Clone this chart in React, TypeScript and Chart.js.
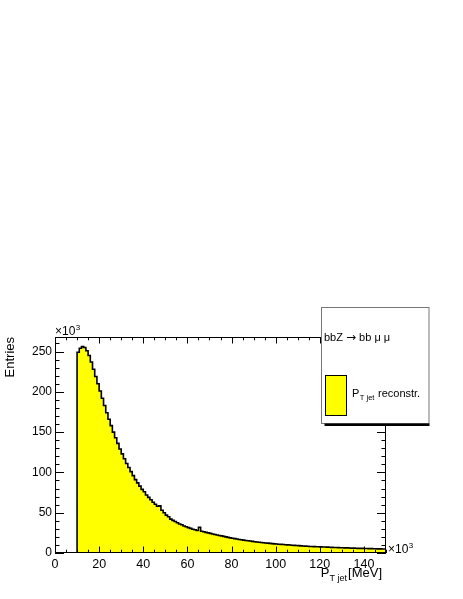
import React, { useEffect, useRef } from "react";
import { Chart, registerables } from "chart.js";

Chart.register(...registerables);

// ---- data (values in units of 10^3 entries, bins of 1 x10^3 MeV from 0 to 150) ----
const X_MIN = 0;
const X_MAX = 150;
const Y_MAX = 268;
const BIN_WIDTH = 1;

const counts: number[] = [
  0, 0, 0, 0, 0, 0, 0, 0, 0, 0,
  249, 254, 256, 255, 251, 245, 237, 228, 219, 210,
  201, 192, 183, 174, 166, 158, 150, 143, 136, 129,
  123, 117, 111, 106, 101, 96, 91, 87, 83, 79,
  76, 72, 69, 66, 63, 60.5, 58, 58.5, 53, 50,
  47, 45, 42, 40.5, 39, 37.5, 36, 35, 33.5, 32.5,
  31.5, 30.5, 29.5, 28.8, 28, 32, 27, 26.3, 25.6, 25,
  24.3, 23.6, 23, 22.4, 21.8, 21.2, 20.6, 20, 19.4, 18.8,
  18.3, 17.8, 17.3, 16.8, 16.4, 16, 15.6, 15.2, 14.8, 14.4,
  14, 13.7, 13.4, 13.1, 12.8, 12.5, 12.2, 11.9, 11.6, 11.3,
  11.1, 10.9, 10.7, 10.5, 10.3, 10.1, 9.9, 9.7, 9.5, 9.3,
  9.1, 8.9, 8.7, 8.5, 8.3, 8.1, 8.0, 7.9, 7.8, 7.7,
  7.6, 7.5, 7.4, 7.3, 7.1, 7.0, 6.9, 6.8, 6.7, 6.6,
  6.5, 6.4, 6.3, 6.2, 6.1, 6.0, 5.9, 5.8, 5.8, 5.7,
  5.6, 5.5, 5.4, 5.4, 5.3, 5.2, 5.1, 5.1, 5.0, 4.9,
];

const X_TICK_STEP = 20;
const X_MINOR_STEP = 5;
const Y_TICK_STEP = 50;
const Y_MINOR_STEP = 10;

const legendHeaderA = "bbZ ";
const legendHeaderArrow = "\u2192";
const legendHeaderB = " bb \u03bc \u03bc";
const legendEntryMain = "P";
const legendEntrySub = "T jet";
const legendEntryRest = " reconstr.";
const yTitle = "Entries";
const xTitleMain = "P";
const xTitleSub = "T jet";
const xTitleRest = "[MeV]";

const FONT = '"Liberation Sans", Arial, Helvetica, sans-serif';

const rootDecor = {
  id: "rootDecor",
  afterDraw(chart: any) {
    const ctx: CanvasRenderingContext2D = chart.ctx;
    const { left, right, top, bottom } = chart.chartArea;
    const xs = chart.scales.x;
    const ys = chart.scales.y;
    ctx.save();
    ctx.strokeStyle = "#000";
    ctx.fillStyle = "#000";
    ctx.lineWidth = 1;

    // frame
    ctx.strokeRect(left + 0.5, top + 0.5, right - left - 1, bottom - top - 1);

    // x ticks (bottom and top, inward)
    ctx.beginPath();
    for (let v = X_MIN; v <= X_MAX; v += X_MINOR_STEP) {
      const px = Math.round(xs.getPixelForValue(v)) + 0.5;
      const len = v % X_TICK_STEP === 0 ? 6.5 : 3.3;
      ctx.moveTo(px, bottom);
      ctx.lineTo(px, bottom - len);
      ctx.moveTo(px, top);
      ctx.lineTo(px, top + len);
    }
    // y ticks (left and right, inward)
    for (let v = 0; v <= Y_MAX; v += Y_MINOR_STEP) {
      const py = Math.round(ys.getPixelForValue(v)) + 0.5;
      const len = v % Y_TICK_STEP === 0 ? 9 : 4.5;
      ctx.moveTo(left, py);
      ctx.lineTo(left + len, py);
      ctx.moveTo(right, py);
      ctx.lineTo(right - len, py);
    }
    ctx.stroke();

    // exponent labels
    ctx.textBaseline = "alphabetic";
    ctx.textAlign = "left";
    const drawExp = (x: number, y: number) => {
      ctx.font = `12px ${FONT}`;
      ctx.fillText("\u00d710", x, y);
      const w = ctx.measureText("\u00d710").width;
      ctx.font = `8px ${FONT}`;
      ctx.fillText("3", x + w + 0.5, y - 5.5);
    };
    drawExp(left, top - 2);
    drawExp(right + 2, bottom);

    // y title
    ctx.save();
    ctx.translate(14, top);
    ctx.rotate(-Math.PI / 2);
    ctx.textAlign = "right";
    ctx.font = `13px ${FONT}`;
    ctx.fillText(yTitle, 0, 0);
    ctx.restore();

    // x title (right aligned)
    ctx.textAlign = "left";
    ctx.font = `13px ${FONT}`;
    const wP = ctx.measureText(xTitleMain).width;
    const wR = ctx.measureText(xTitleRest).width;
    ctx.font = `9px ${FONT}`;
    const wS = ctx.measureText(xTitleSub).width;
    const xEnd = right - 4;
    const base = bottom + 24;
    let x0 = xEnd - (wP + wS + 1 + wR);
    ctx.font = `13px ${FONT}`;
    ctx.fillText(xTitleMain, x0, base);
    x0 += wP;
    ctx.font = `9px ${FONT}`;
    ctx.fillText(xTitleSub, x0, base + 4);
    x0 += wS + 1;
    ctx.font = `13px ${FONT}`;
    ctx.fillText(xTitleRest, x0, base);

    // legend box
    const lx = 321.5, ly = 307.5, lw = 107.5, lh = 116;
    ctx.fillStyle = "#fff";
    ctx.fillRect(lx, ly, lw, lh);
    ctx.strokeStyle = "#777";
    ctx.strokeRect(lx, ly, lw, lh);
    ctx.fillStyle = "#000";
    ctx.fillRect(lx + 3, ly + lh, lw - 2.5, 2.5);

    ctx.textBaseline = "middle";
    let hx = 324;
    ctx.font = `11px ${FONT}`;
    ctx.fillText(legendHeaderA, hx, 338);
    hx += ctx.measureText(legendHeaderA).width;
    ctx.font = `12px "DejaVu Sans", ${FONT}`;
    ctx.fillText(legendHeaderArrow, hx, 338);
    hx += ctx.measureText(legendHeaderArrow).width;
    ctx.font = `11px ${FONT}`;
    ctx.fillText(legendHeaderB, hx, 338);

    ctx.fillStyle = "#ffff00";
    ctx.fillRect(325.5, 375.5, 21, 40);
    ctx.strokeStyle = "#000";
    ctx.strokeRect(325.5, 375.5, 21, 40);

    ctx.fillStyle = "#000";
    ctx.textBaseline = "alphabetic";
    ctx.font = `11px ${FONT}`;
    const lb = 397;
    ctx.fillText(legendEntryMain, 352, lb);
    let lx2 = 352 + ctx.measureText(legendEntryMain).width;
    ctx.font = `7.5px ${FONT}`;
    ctx.fillText(legendEntrySub, lx2 + 0.5, lb + 3);
    lx2 += ctx.measureText(legendEntrySub).width + 1;
    ctx.font = `11px ${FONT}`;
    ctx.fillText(legendEntryRest, lx2, lb);

    ctx.restore();
  },
};

export default function App() {
  const canvasRef = useRef<HTMLCanvasElement | null>(null);

  useEffect(() => {
    const canvas = canvasRef.current;
    if (!canvas) return;
    const points = counts.map((c, i) => ({ x: X_MIN + i * BIN_WIDTH, y: c }));
    points.push({ x: X_MAX, y: counts[counts.length - 1] });

    const chart = new Chart(canvas, {
      type: "line",
      data: {
        datasets: [
          {
            data: points,
            stepped: true,
            fill: "origin",
            backgroundColor: "#ffff00",
            borderColor: "#000",
            borderWidth: 1.6,
            pointRadius: 0,
            tension: 0,
          },
        ],
      },
      options: {
        animation: false,
        responsive: false,
        devicePixelRatio: 1,
        layout: { padding: { top: 337, right: 77, left: 0, bottom: 0 } },
        plugins: { legend: { display: false }, tooltip: { enabled: false } },
        scales: {
          x: {
            type: "linear",
            min: X_MIN,
            max: X_MAX,
            grid: { display: false, drawTicks: false },
            border: { display: false },
            ticks: {
              stepSize: X_TICK_STEP,
              includeBounds: false,
              padding: 4,
              color: "#000",
              font: { family: FONT, size: 12.5 },
              maxRotation: 0,
            },
            afterFit: (s: any) => {
              s.height = 46;
            },
          },
          y: {
            type: "linear",
            min: 0,
            max: Y_MAX,
            grid: { display: false, drawTicks: false },
            border: { display: false },
            ticks: {
              stepSize: Y_TICK_STEP,
              includeBounds: false,
              padding: 3,
              color: "#000",
              font: { family: FONT, size: 12 },
            },
            afterFit: (s: any) => {
              s.width = 55;
            },
          },
        },
      },
      plugins: [rootDecor],
    });
    return () => chart.destroy();
  }, []);

  return (
    <div style={{ position: "absolute", left: 0, top: 0, width: 463, height: 599, background: "#fff" }}>
      <canvas ref={canvasRef} width={463} height={599} />
    </div>
  );
}
